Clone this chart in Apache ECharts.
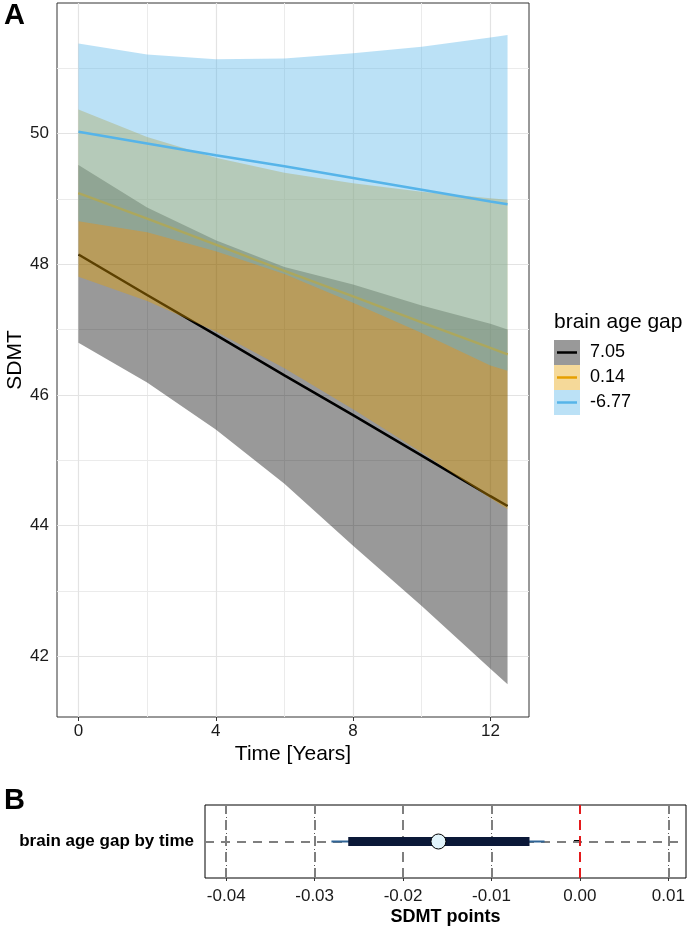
<!DOCTYPE html>
<html><head><meta charset="utf-8">
<script src="https://cdn.jsdelivr.net/npm/echarts@6/dist/echarts.min.js"></script>
<style>html,body{margin:0;padding:0;background:#fff}#c{width:692px;height:928px}</style>
</head><body><div id="c"></div>
<script>
// ---------- Panel A data ----------
const years = [0, 2, 4, 6, 8, 10, 12, 12.5];
const groups = ['7.05', '0.14', '-6.77'];
const fit705 = [48.15, 47.53, 46.92, 46.30, 45.69, 45.07, 44.45, 44.30];
const lo705  = [46.80, 46.19, 45.47, 44.64, 43.69, 42.77, 41.81, 41.57];
const hi705  = [49.52, 48.87, 48.37, 47.96, 47.69, 47.37, 47.09, 47.00];
const fit014 = [49.09, 48.70, 48.30, 47.90, 47.51, 47.11, 46.72, 46.62];
const lo014  = [47.81, 47.44, 46.97, 46.41, 45.78, 45.12, 44.42, 44.25];
const hi014  = [50.37, 49.95, 49.63, 49.40, 49.24, 49.11, 49.01, 48.99];
const fitN677 = [50.03, 49.85, 49.67, 49.50, 49.32, 49.14, 48.96, 48.92];
const loN677  = [48.66, 48.49, 48.20, 47.85, 47.41, 46.95, 46.45, 46.37];
const hiN677  = [51.38, 51.21, 51.14, 51.15, 51.23, 51.33, 51.47, 51.51];
const xTicks = [0, 4, 8, 12];
const xMinor = [2, 6, 10];
const yTicks = [42, 44, 46, 48, 50];
const yMinor = [41, 43, 45, 47, 49, 51];

// ---------- Panel B data ----------
const terms = ['brain age gap by time'];
const estimate = [-0.0160];
const innerLow = [-0.0262];
const innerHigh = [-0.0057];
const outerLow = [-0.0281];
const outerHigh = [-0.0040];
const bTicks = [-0.04, -0.03, -0.02, -0.01, 0.00, 0.01];
const bMinor = [-0.035, -0.025, -0.015, -0.005, 0.005];
const bRef = [0];

const FONT = "'Liberation Sans', Arial, Helvetica, sans-serif";
const lineCols = ['#000000', '#E69F00', '#56B4E9'];
const fillCols = ['rgba(0,0,0,0.4)', 'rgba(230,159,0,0.4)', 'rgba(86,180,233,0.4)'];

function ribbon(lo, hi, fill, z) {
  return {
    type: 'custom', xAxisIndex: 0, yAxisIndex: 0, z: z, silent: true, animation: false,
    data: years.map((x, i) => [x, lo[i], hi[i]]),
    encode: { x: 0, y: [1, 2] },
    renderItem: function (params, api) {
      if (params.dataIndex !== 0) return null;
      const pts = [];
      for (let i = 0; i < years.length; i++) pts.push(api.coord([years[i], hi[i]]));
      for (let i = years.length - 1; i >= 0; i--) pts.push(api.coord([years[i], lo[i]]));
      return { type: 'polygon', shape: { points: pts }, style: { fill: fill } };
    }
  };
}
function fitLine(fit, color, z) {
  return {
    type: 'line', xAxisIndex: 0, yAxisIndex: 0, z: z, silent: true, animation: false,
    data: years.map((x, i) => [x, fit[i]]), symbol: 'none',
    lineStyle: { color: color, width: 2.5 }
  };
}

const gridA = [].concat(
  xMinor.map(v => ({ xAxis: v, lineStyle: { color: '#EBEBEB', width: 1, type: 'solid' } })),
  yMinor.map(v => ({ yAxis: v, lineStyle: { color: '#EBEBEB', width: 1, type: 'solid' } })),
  xTicks.map(v => ({ xAxis: v, lineStyle: { color: '#E3E3E3', width: 1.2, type: 'solid' } })),
  yTicks.map(v => ({ yAxis: v, lineStyle: { color: '#E3E3E3', width: 1.2, type: 'solid' } }))
);
const gridB = [].concat(
  bMinor.map(v => ({ xAxis: v, lineStyle: { color: '#555555', width: 1, type: [1, 3] } })),
  bTicks.filter(v => bRef.indexOf(v) < 0).map(v => ({ xAxis: v, lineStyle: { color: '#7F7F7F', width: 2, type: [10, 6] } })),
  terms.map(t => ({ yAxis: t, lineStyle: { color: '#7F7F7F', width: 2, type: [9, 7] } })),
  bRef.map(v => ({ xAxis: v, lineStyle: { color: '#E41A1C', width: 2, type: [10, 6] } }))
);

const chart = echarts.init(document.getElementById('c'), null, { renderer: 'canvas' });

const legendGraphics = [];
const kx = 554, ky = 340, kw = 26, kh = 25;
legendGraphics.push({ type: 'text', left: kx, top: ky - 28, style: { text: 'brain age gap', font: '21px ' + FONT, fill: '#000' } });
groups.forEach((g, i) => {
  legendGraphics.push({ type: 'rect', shape: { x: kx, y: ky + i * kh, width: kw, height: kh }, style: { fill: fillCols[i] } });
  legendGraphics.push({ type: 'line', shape: { x1: kx + 3, y1: ky + i * kh + kh / 2, x2: kx + kw - 3, y2: ky + i * kh + kh / 2 }, style: { stroke: lineCols[i], lineWidth: 2.5 } });
  legendGraphics.push({ type: 'text', x: kx + 36, y: ky + i * kh + kh / 2, style: { text: g, font: '18px ' + FONT, fill: '#000', textVerticalAlign: 'middle' } });
});

const option = {
  animation: false,
  backgroundColor: '#ffffff',
  graphic: [
    { type: 'text', left: 4, top: 1, style: { text: 'A', font: 'bold 29px ' + FONT, fill: '#000' } },
    { type: 'text', left: 4, top: 786, style: { text: 'B', font: 'bold 29px ' + FONT, fill: '#000' } }
  ].concat(legendGraphics),
  grid: [
    { left: 57, top: 3, width: 472, height: 714, show: true, borderColor: '#333333', borderWidth: 1, backgroundColor: 'transparent', containLabel: false, outerBoundsMode: 'none' },
    { left: 205, top: 805, width: 481, height: 73, show: true, borderColor: '#000000', borderWidth: 1, backgroundColor: 'transparent', containLabel: false, outerBoundsMode: 'none' }
  ],
  xAxis: [
    {
      gridIndex: 0, type: 'value', min: -0.625, max: 13.125,
      axisLine: { show: false }, splitLine: { show: false },
      axisTick: { show: true, customValues: xTicks, length: 4, lineStyle: { color: '#333333', width: 1 } },
      axisLabel: { customValues: xTicks, fontSize: 17, fontFamily: FONT, color: '#1a1a1a', margin: 6 },
      name: 'Time [Years]', nameLocation: 'middle', nameGap: 27, nameMoveOverlap: false,
      nameTextStyle: { fontSize: 21, fontFamily: FONT, color: '#000' }
    },
    {
      gridIndex: 1, type: 'value', min: -0.0424, max: 0.0120,
      axisLine: { show: false }, splitLine: { show: false },
      axisTick: { show: true, customValues: bTicks, length: 3, lineStyle: { color: '#333333', width: 1 } },
      axisLabel: { customValues: bTicks, fontSize: 17, fontFamily: FONT, color: '#1a1a1a', margin: 10, formatter: v => v.toFixed(2) },
      name: 'SDMT points', nameLocation: 'middle', nameGap: 30, nameMoveOverlap: false,
      nameTextStyle: { fontSize: 18, fontWeight: 'bold', fontFamily: FONT, color: '#000' }
    }
  ],
  yAxis: [
    {
      gridIndex: 0, type: 'value', min: 41.07, max: 52.0,
      axisLine: { show: false }, splitLine: { show: false },
      axisTick: { show: true, customValues: yTicks, length: 4, lineStyle: { color: '#333333', width: 1 } },
      axisLabel: { customValues: yTicks, fontSize: 17, fontFamily: FONT, color: '#1a1a1a', margin: 8 },
      name: 'SDMT', nameLocation: 'middle', nameGap: 31, nameMoveOverlap: false,
      nameTextStyle: { fontSize: 21, fontFamily: FONT, color: '#000' }
    },
    {
      gridIndex: 1, type: 'category', data: terms,
      axisLine: { show: false }, splitLine: { show: false },
      axisTick: { show: true, alignWithLabel: true, length: 6, lineStyle: { color: '#000', width: 3 } },
      axisLabel: { fontSize: 17, fontWeight: 'bold', fontFamily: FONT, color: '#000', margin: 11 }
    }
  ],
  series: [
    {
      type: 'line', xAxisIndex: 0, yAxisIndex: 0, z: 1, data: [], symbol: 'none', silent: true,
      markLine: { z: 1, silent: true, symbol: ['none', 'none'], animation: false, label: { show: false }, data: gridA }
    },
    ribbon(lo705, hi705, fillCols[0], 2),
    fitLine(fit705, lineCols[0], 3),
    ribbon(lo014, hi014, fillCols[1], 4),
    fitLine(fit014, lineCols[1], 5),
    ribbon(loN677, hiN677, fillCols[2], 6),
    fitLine(fitN677, lineCols[2], 7),
    {
      type: 'line', xAxisIndex: 1, yAxisIndex: 1, z: 1, data: [], symbol: 'none', silent: true,
      markLine: { z: 1, silent: true, symbol: ['none', 'none'], animation: false, label: { show: false }, data: gridB }
    },
    {
      type: 'line', xAxisIndex: 1, yAxisIndex: 1, z: 7, symbol: 'none', silent: true,
      data: terms.map((t, i) => [outerLow[i], t]).concat(terms.map((t, i) => [outerHigh[i], t])),
      lineStyle: { color: '#2F6496', width: 2 }
    },
    {
      type: 'line', xAxisIndex: 1, yAxisIndex: 1, z: 8, symbol: 'none', silent: true,
      data: terms.map((t, i) => [innerLow[i], t]).concat(terms.map((t, i) => [innerHigh[i], t])),
      lineStyle: { color: '#0B1838', width: 9, cap: 'butt' }
    },
    {
      type: 'scatter', xAxisIndex: 1, yAxisIndex: 1, z: 9, silent: true,
      data: terms.map((t, i) => [estimate[i], t]),
      symbol: 'circle', symbolSize: 15,
      itemStyle: { color: '#E2F4FB', borderColor: '#000', borderWidth: 1, opacity: 1 }
    }
  ]
};
chart.setOption(option);
</script>
</body></html>
